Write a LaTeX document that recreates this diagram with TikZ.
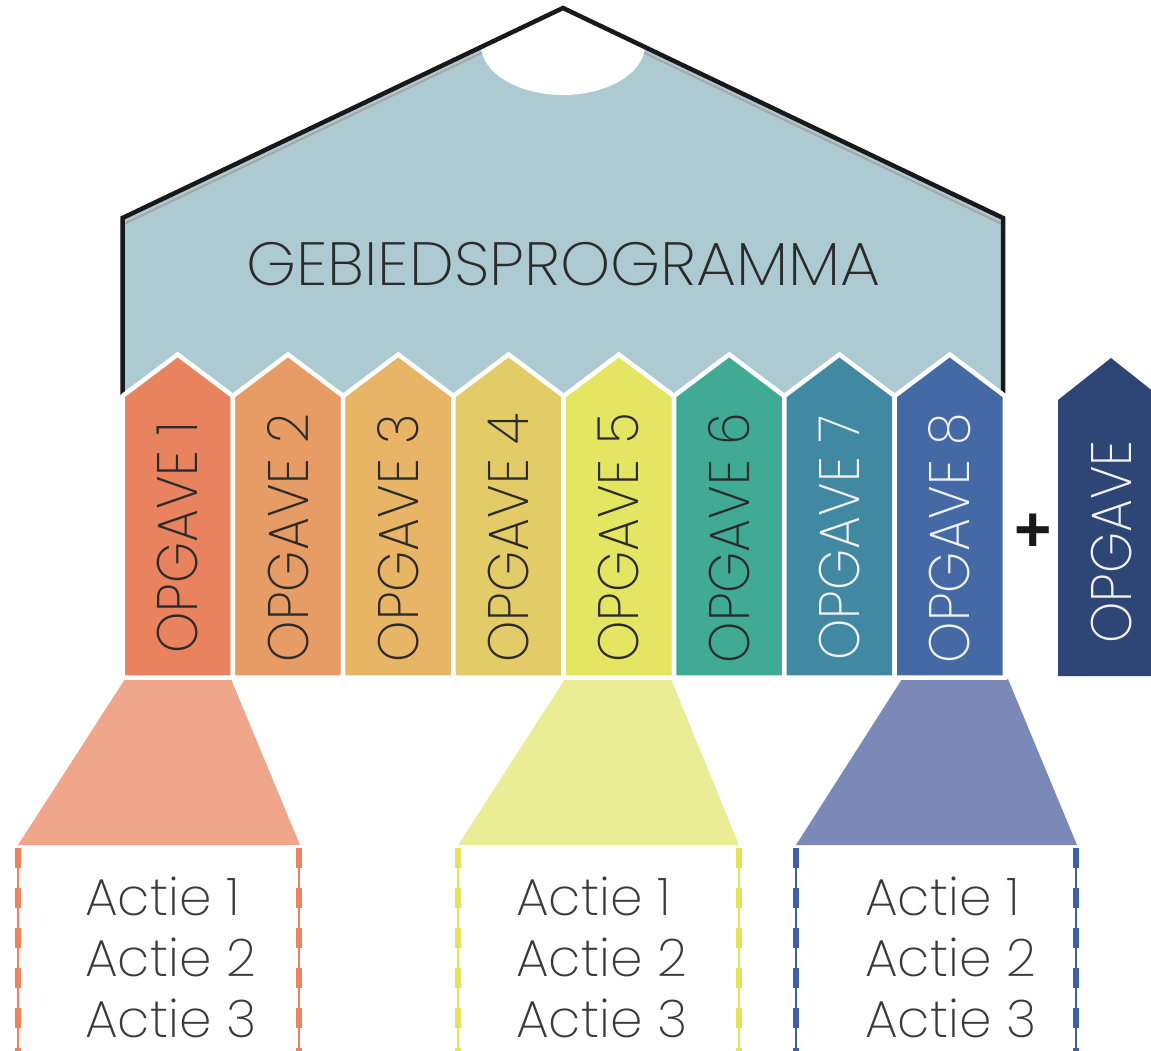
\documentclass[tikz,border=0pt]{standalone}
\usepackage{fontspec}
\IfFontExistsTF{Poppins ExtraLight}{\def\mfont{Poppins ExtraLight}}{\def\mfont{Poppins Light}}
\setmainfont{\mfont}
\newfontfamily\opgfont{\mfont}[FakeStretch=0.92]
\newfontfamily\titlefont{\mfont}[FakeStretch=1.045]
\newfontfamily\plusfont{Liberation Sans}[UprightFont=* Bold]
\definecolor{roofc}{HTML}{ADCAD3}
\definecolor{ca}{HTML}{E8825F}
\definecolor{cb}{HTML}{E79C65}
\definecolor{cc}{HTML}{E8B466}
\definecolor{cd}{HTML}{E3CC67}
\definecolor{ce}{HTML}{E4E562}
\definecolor{cf}{HTML}{41AA94}
\definecolor{cg}{HTML}{4189A2}
\definecolor{ch}{HTML}{4569A5}
\definecolor{cx}{HTML}{2E4676}
\definecolor{trl}{HTML}{F0A68A}
\definecolor{trm}{HTML}{EAEC96}
\definecolor{trr}{HTML}{7B89B9}
\definecolor{dsl}{HTML}{EE835F}
\definecolor{dsm}{HTML}{E3E45C}
\definecolor{dsr}{HTML}{3F60A6}
\definecolor{dk}{HTML}{2B2B2B}
\definecolor{lt}{HTML}{F2F2F2}
\definecolor{actc}{HTML}{3A3A3A}
\tikzset{
  colshape/.style={draw=white, line width=4.5pt, line join=miter},
  opg/.style={font=\opgfont\fontsize{57}{60}\selectfont, inner sep=0pt},
  actie/.style={font=\fontsize{52}{61}\selectfont, text=actc, inner sep=0pt, anchor=base west},
  thinline/.style={line width=1.2pt},
  thickdash/.style={line width=6pt, dash pattern=on 20pt off 20pt}
}
\begin{document}
\begin{tikzpicture}[x=1pt,y=-1pt]
\useasboundingbox (0,0) rectangle (1151,1051);
\clip (0,0) rectangle (1151,1051);
% roof
\fill[roofc] (122.5,400) -- (122.5,218) -- (563,8) -- (1003,218) -- (1003,400) -- cycle;
\draw[gray!70, line width=2pt] (125,223.5) -- (563,14) -- (1001,223.5);
\fill[white] (563,45) ellipse [x radius=82, y radius=50];
\draw[black!90, line width=4.5pt, line join=miter] (122.5,396) -- (122.5,218) -- (563,8) -- (1003,218) -- (1003,396);
\node[font=\titlefont\fontsize{61}{64}\selectfont, text=dk, inner sep=0pt] (title) at (563.5,264) {GEBIEDSPROGRAMMA};
% trapezoids
\fill[trl] (125,679) -- (231,679) -- (300,845) -- (18,845) -- cycle;
\fill[trm] (565,679) -- (671,679) -- (739,845) -- (458,845) -- cycle;
\fill[trr] (902,679) -- (1008,679) -- (1077,845) -- (796,845) -- cycle;
% columns
\foreach \i/\col/\tc in {1/ca/dk,2/cb/dk,3/cc/dk,4/cd/dk,5/ce/dk,6/cf/dk,7/cg/lt,8/ch/lt} {
  \pgfmathsetmacro{\L}{122.5+110.3*(\i-1)}
  \pgfmathsetmacro{\R}{\L+110.3}
  \pgfmathsetmacro{\C}{\L+55.15}
  \draw[colshape, fill=\col] (\L,677.5) -- (\L,396) -- (\C,354.5) -- (\R,396) -- (\R,677.5) -- cycle;
  \node[opg, text=\tc, rotate=90] (o\i) at (\C,538) {OPGAVE \i};
}
% extra column
\fill[cx] (1058,676) -- (1058,400) -- (1111,358) -- (1164,400) -- (1164,676) -- cycle;
\node[opg, text=lt, rotate=90] (ox) at (1112,542) {OPGAVE};
\node[font=\plusfont\fontsize{64}{64}\selectfont, text=black!90, inner sep=0pt] (plus) at (1033,533) {+};
% dashed sides
\foreach \x/\c in {18/dsl,299/dsl,458/dsm,739/dsm,796/dsr,1076/dsr} {
  \coordinate (t\x) at (\x,848);
  \coordinate (b\x) at (\x,1060);
  \draw[thinline, \c] (t\x) -- (b\x);
  \draw[thickdash, \c] (t\x) -- (b\x);
}
% actions
\foreach \x/\n in {85/l,516/m,865/r} {
  \node[actie] (\n a) at (\x,915) {Actie 1};
  \node[actie] (\n b) at (\x,976) {Actie 2};
  \node[actie] (\n c) at (\x,1037) {Actie 3};
}
\end{tikzpicture}
\end{document}
